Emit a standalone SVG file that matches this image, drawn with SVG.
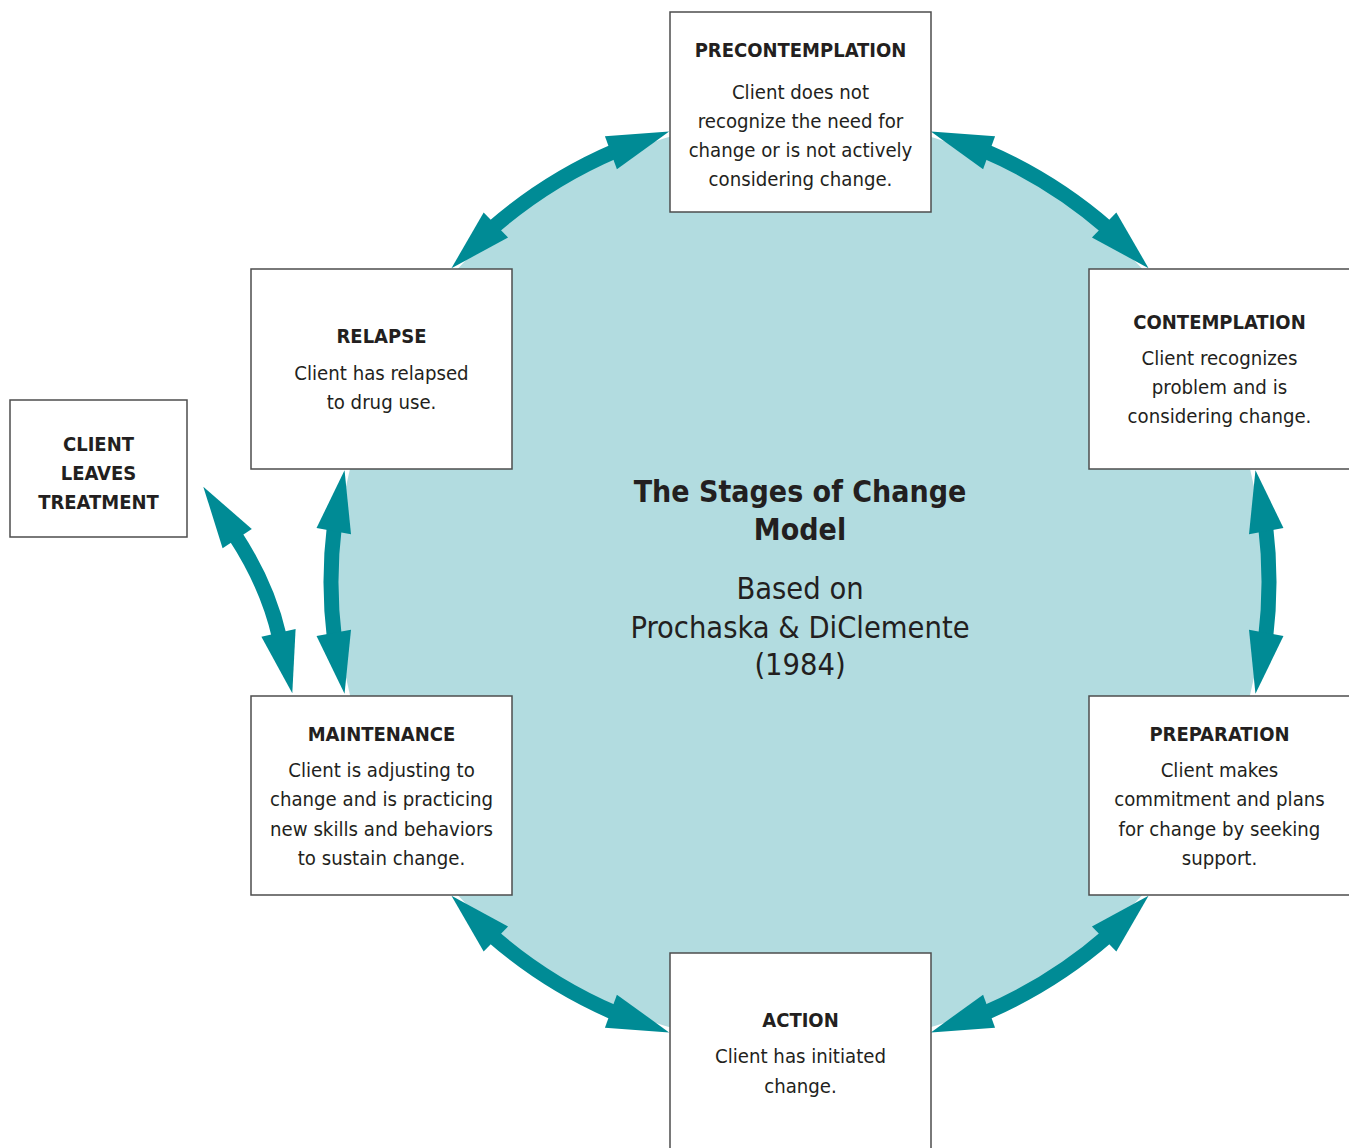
<svg xmlns="http://www.w3.org/2000/svg" width="1349" height="1148" viewBox="0 0 1349 1148">
<style>
.box{fill:#fff;stroke:#4d4d4d;stroke-width:1.5}
.t{font-family:"DejaVu Sans Condensed","Liberation Sans Narrow","Liberation Sans",sans-serif;fill:#231f20;text-anchor:middle}
.h{font-weight:bold;font-size:20px}
.b{font-size:20.2px}
.shaft{fill:none;stroke:#008b95;stroke-width:15}
.head{fill:#008b95}
</style>
<defs>
<g id="arrowA">
<path class="shaft" d="M463.23,-73.37 A469,469 0 0 1 463.23,73.37"/>
<path class="head" d="M451.06,-128.49 L481.17,-71.58 L446.95,-64.24 Z"/>
<path class="head" d="M451.06,128.49 L481.17,71.58 L446.95,64.24 Z"/>
</g>
<g id="arrowB">
<path class="shaft" d="M465.51,-57.16 A469,469 0 0 1 465.51,57.16"/>
<path class="head" d="M455.46,-111.87 L483.46,-53.90 L449.00,-47.82 Z"/>
<path class="head" d="M455.46,111.87 L483.46,53.90 L449.00,47.82 Z"/>
</g>
</defs>
<circle id="cycle" cx="800" cy="582" r="464" fill="#b2dce0"/>
<g id="connectors">
<use href="#arrowA" transform="translate(800,582) rotate(-122.1)"/>
<use href="#arrowA" transform="translate(800,582) rotate(-57.9)"/>
<use href="#arrowB" transform="translate(800,582)"/>
<use href="#arrowA" transform="translate(800,582) rotate(57.9)"/>
<use href="#arrowA" transform="translate(800,582) rotate(122.1)"/>
<use href="#arrowB" transform="translate(800,582) rotate(180)"/>
<g id="leave-arrow">
<path class="shaft" d="M235,535.3 Q267.6,585.1 279.4,636.8"/>
<path class="head" d="M203.3,486.7 L251.8,529.0 L222.6,548.2 Z"/>
<path class="head" d="M292.3,693.3 L295.6,629.0 L261.4,636.8 Z"/>
</g>
</g>
<g id="center-title">
<text class="t" x="800" y="502" font-weight="bold" font-size="30">The Stages of Change</text>
<text class="t" x="800" y="540" font-weight="bold" font-size="30">Model</text>
<text class="t" x="800" y="599" font-size="30.5">Based on</text>
<text class="t" x="800" y="638" font-size="30.5">Prochaska &amp; DiClemente</text>
<text class="t" x="800" y="675" font-size="30.5">(1984)</text>
</g>
<g id="precontemplation">
<rect class="box" x="670" y="12" width="261" height="200"/>
<text class="t h" x="800.5" y="57">PRECONTEMPLATION</text>
<text class="t b" x="800.5" y="99">Client does not</text>
<text class="t b" x="800.5" y="128">recognize the need for</text>
<text class="t b" x="800.5" y="157">change or is not actively</text>
<text class="t b" x="800.5" y="186">considering change.</text>
</g>
<g id="contemplation">
<rect class="box" x="1089" y="269" width="262" height="200"/>
<text class="t h" x="1219.5" y="329">CONTEMPLATION</text>
<text class="t b" x="1219.5" y="365">Client recognizes</text>
<text class="t b" x="1219.5" y="394">problem and is</text>
<text class="t b" x="1219.5" y="423">considering change.</text>
</g>
<g id="preparation">
<rect class="box" x="1089" y="696" width="262" height="199"/>
<text class="t h" x="1219.5" y="741">PREPARATION</text>
<text class="t b" x="1219.5" y="777">Client makes</text>
<text class="t b" x="1219.5" y="806">commitment and plans</text>
<text class="t b" x="1219.5" y="836">for change by seeking</text>
<text class="t b" x="1219.5" y="865">support.</text>
</g>
<g id="action">
<rect class="box" x="670" y="953" width="261" height="200"/>
<text class="t h" x="800.5" y="1027">ACTION</text>
<text class="t b" x="800.5" y="1063">Client has initiated</text>
<text class="t b" x="800.5" y="1093">change.</text>
</g>
<g id="maintenance">
<rect class="box" x="251" y="696" width="261" height="199"/>
<text class="t h" x="381.5" y="741">MAINTENANCE</text>
<text class="t b" x="381.5" y="777">Client is adjusting to</text>
<text class="t b" x="381.5" y="806">change and is practicing</text>
<text class="t b" x="381.5" y="836">new skills and behaviors</text>
<text class="t b" x="381.5" y="865">to sustain change.</text>
</g>
<g id="relapse">
<rect class="box" x="251" y="269" width="261" height="200"/>
<text class="t h" x="381.5" y="343">RELAPSE</text>
<text class="t b" x="381.5" y="380">Client has relapsed</text>
<text class="t b" x="381.5" y="409">to drug use.</text>
</g>
<g id="client-leaves">
<rect class="box" x="10" y="400" width="177" height="137"/>
<text class="t h" x="98.5" y="451">CLIENT</text>
<text class="t h" x="98.5" y="480">LEAVES</text>
<text class="t h" x="98.5" y="509">TREATMENT</text>
</g>
</svg>
